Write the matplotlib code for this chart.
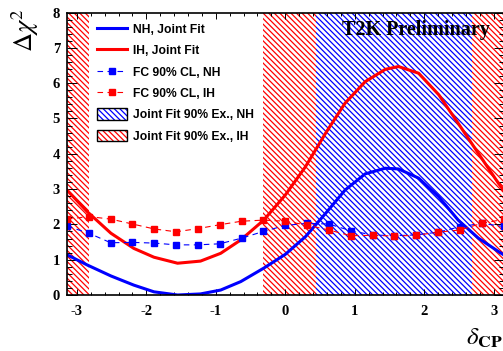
import numpy as np
import matplotlib
matplotlib.use("Agg")
import matplotlib.pyplot as plt
from matplotlib.patches import Patch
from matplotlib.lines import Line2D
from matplotlib.legend_handler import HandlerTuple
from matplotlib.ticker import MultipleLocator

plt.rcParams["axes.unicode_minus"] = False
plt.rcParams["mathtext.fontset"] = "stix"
plt.rcParams["hatch.linewidth"] = 0.9

# joint fit curves (delta_CP, delta chi2)
fit_dcp = [-3.1416, -2.85, -2.51, -2.18, -1.89, -1.55, -1.22, -0.93, -0.64, -0.31, 0.0,
           0.29, 0.58, 0.86, 1.15, 1.44, 1.63, 1.92, 2.21, 2.49, 2.78, 3.07, 3.1416]
fit_nh = [1.14, 0.85, 0.54, 0.28, 0.09, 0.0, 0.03, 0.14, 0.38, 0.76, 1.15,
          1.65, 2.31, 2.97, 3.43, 3.59, 3.57, 3.31, 2.78, 2.12, 1.61, 1.23, 1.14]
fit_ih = [2.97, 2.36, 1.75, 1.32, 1.07, 0.90, 0.96, 1.18, 1.56, 2.12, 2.83,
          3.63, 4.58, 5.43, 6.04, 6.39, 6.47, 6.28, 5.67, 4.86, 4.01, 3.16, 2.97]

# Feldman-Cousins 90% critical values
fc_dcp = np.linspace(-np.pi, np.pi, 21)
fc_nh = [1.95, 1.75, 1.48, 1.49, 1.47, 1.42, 1.42, 1.45, 1.61, 1.80, 1.97,
         2.03, 2.01, 1.82, 1.70, 1.68, 1.70, 1.78, 1.93, 2.03, 1.94]
fc_ih = [2.15, 2.22, 2.15, 2.01, 1.87, 1.79, 1.88, 1.99, 2.09, 2.12, 2.09,
         1.98, 1.84, 1.68, 1.69, 1.67, 1.69, 1.78, 1.84, 2.03, 2.14]

# 90% excluded intervals
excl_ih = [(-3.1416, -2.83), (-0.32, 3.1416)]
excl_nh = [(0.44, 2.69)]

W, H = 503, 351
fig = plt.figure(figsize=(W / 100, H / 100), dpi=100)
ax = fig.add_axes([67 / W, 1 - 295 / H, (503.5 - 67) / W, (295 - 12.5) / H])

hatch = "\\" * 6
for lo, hi in excl_ih:
    ax.axvspan(lo, hi, facecolor="none", edgecolor="red", hatch=hatch, linewidth=0, zorder=1)
for lo, hi in excl_nh:
    ax.axvspan(lo, hi, facecolor="white", edgecolor="blue", hatch=hatch, linewidth=0, zorder=1.5)

ax.plot(fit_dcp, fit_nh, color="blue", lw=2.2, zorder=3)
ax.plot(fit_dcp, fit_ih, color="red", lw=2.2, zorder=3)
ax.plot(fc_dcp, fc_nh, color="blue", lw=0.8, ls=(0, (5, 4)), marker="s", ms=4.5, zorder=4)
ax.plot(fc_dcp, fc_ih, color="red", lw=0.8, ls=(0, (5, 4)), marker="s", ms=4.5, zorder=5)

ax.set_xlim(-np.pi, np.pi)
ax.set_ylim(0, 8)
ax.xaxis.set_major_locator(MultipleLocator(1))
ax.xaxis.set_minor_locator(MultipleLocator(0.2))
ax.yaxis.set_major_locator(MultipleLocator(1))
ax.yaxis.set_minor_locator(MultipleLocator(0.2))
ax.tick_params(which="both", direction="in", top=True, right=True, width=0.7, color="black")
ax.tick_params(axis="y", which="major", length=7.2, pad=5)
ax.tick_params(axis="y", which="minor", length=3.6)
ax.tick_params(axis="x", which="major", length=4.3, pad=7)
ax.tick_params(axis="x", which="minor", length=2.2)
for lab in ax.get_xticklabels() + ax.get_yticklabels():
    lab.set_fontfamily("Liberation Serif")
    lab.set_fontweight("bold")
    lab.set_fontsize(10.5)
for sp in ax.spines.values():
    sp.set_linewidth(1.2)
    sp.set_zorder(6)

fig.text(342 / W, 1 - 20 / H, "T2K Preliminary", family="Liberation Serif",
         fontweight="bold", fontsize=14.5, ha="left", va="top")
fig.text(25 / W, 1 - 8 / H, r"$\Delta\chi^{2}$", fontsize=19, rotation=90,
         ha="center", va="top")
fig.text(1.0, 0.004, r"$\delta_{\mathbf{CP}}$", fontsize=18, ha="right", va="bottom")

handles = [
    Line2D([], [], color="blue", lw=2.2),
    Line2D([], [], color="red", lw=2.2),
    Line2D([], [], color="blue", lw=0.8, ls=(0, (5, 4)), marker="s", ms=4.5),
    Line2D([], [], color="red", lw=0.8, ls=(0, (5, 4)), marker="s", ms=4.5),
    (Patch(facecolor="white", edgecolor="blue", hatch=hatch, lw=0),
     Patch(facecolor="none", edgecolor="black", lw=1.0)),
    (Patch(facecolor="white", edgecolor="red", hatch=hatch, lw=0),
     Patch(facecolor="none", edgecolor="black", lw=1.0)),
]
labels = ["NH, Joint Fit", "IH, Joint Fit", "FC 90% CL, NH", "FC 90% CL, IH",
          "Joint Fit 90% Ex., NH", "Joint Fit 90% Ex., IH"]
leg = ax.legend(handles, labels, loc="upper left", bbox_to_anchor=(97 / W, 1 - 23 / H),
                bbox_transform=fig.transFigure, frameon=False, borderpad=0,
                borderaxespad=0, handlelength=2.5, handleheight=1.1, handletextpad=0.45,
                labelspacing=0.7, prop={"family": "Liberation Sans", "weight": "bold", "size": 8.7},
                handler_map={tuple: HandlerTuple(ndivide=1)})
leg.set_zorder(7)

fig.savefig("out.png", dpi=100)
